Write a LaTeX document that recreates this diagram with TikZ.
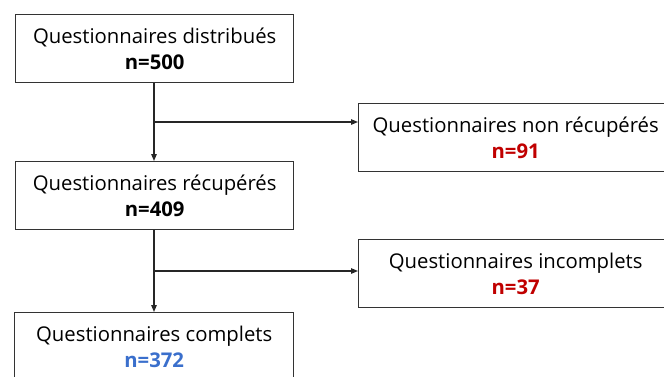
\documentclass[tikz,border=0pt]{standalone}
\usepackage{fontspec}
\setmainfont{Open Sans}
\usetikzlibrary{arrows.meta,calc}
\definecolor{redn}{HTML}{C00000}
\definecolor{bluen}{HTML}{3A6FCC}
\begin{document}
\begin{tikzpicture}[x=1pt,y=-1pt,
  box/.style={draw=black!80,line width=1.4pt,rectangle,anchor=north west,minimum height=68pt,inner sep=0pt,align=center,font=\fontsize{20.3}{26}\selectfont},
  conn/.style={draw=black!85,line width=1.2pt},
  arr/.style={conn,-{Triangle[length=7pt,width=5.5pt]}}]
\useasboundingbox (0,0) rectangle (664,376);
\node[box,minimum width=278pt] (b1) at (15,14) {Questionnaires distribués\\\textbf{n=500}};
\node[box,minimum width=278pt] (b2) at (15,161) {Questionnaires récupérés\\\textbf{n=409}};
\node[box,minimum width=279pt] (b4) at (14,312) {Questionnaires complets\\\textcolor{bluen}{\textbf{n=372}}};
\node[box,minimum width=314pt] (b3) at (358,103) {Questionnaires non récupérés\\\textcolor{redn}{\textbf{n=91}}};
\node[box,minimum width=314pt] (b5) at (358,239) {Questionnaires incomplets\\\textcolor{redn}{\textbf{n=37}}};
\coordinate (j1) at (154,122);
\coordinate (j2) at (154,271);
\draw[arr] (b1.south -| j1) -- (b2.north -| j1);
\draw[arr] (j1) -- (b3.west |- j1);
\draw[arr] (b2.south -| j2) -- (b4.north -| j2);
\draw[arr] (j2) -- (b5.west |- j2);
\end{tikzpicture}
\end{document}
